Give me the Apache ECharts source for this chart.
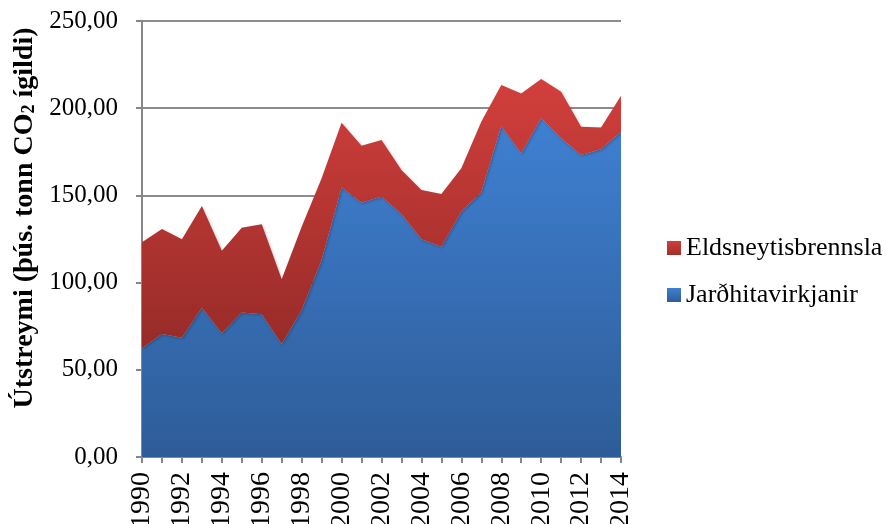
<!DOCTYPE html>
<html>
<head>
<meta charset="utf-8">
<script src="https://cdn.jsdelivr.net/npm/echarts@6/dist/echarts.min.js"></script>
<style>
html,body{margin:0;padding:0;background:#fff;}
#chart{width:886px;height:524px;}
</style>
</head>
<body>
<div id="chart"></div>
<script>
const years = ['1990','1991','1992','1993','1994','1995','1996','1997','1998','1999','2000','2001','2002','2003','2004','2005','2006','2007','2008','2009','2010','2011','2012','2013','2014'];
const jardhiti = [62.3,70.5,68.4,85.6,70.9,82.8,81.8,64.8,84.3,113.0,154.6,145.8,149.3,139.3,124.8,120.6,140.7,151.8,189.8,174.1,194.2,182.7,173.2,176.4,186.5];
const eldsneyti = [60.8,60.2,56.4,58.3,47.4,48.7,51.6,37.1,47.7,46.8,37.1,32.7,32.5,25.3,28.3,30.2,24.8,40.5,23.5,34.4,22.5,26.8,16.2,12.6,20.7];
const seriesNames = ['Eldsneytisbrennsla','Jarðhitavirkjanir'];

const font = '"Liberation Serif", "Times New Roman", serif';
const chart = echarts.init(document.getElementById('chart'));
function grad(top, bottom){
  return new echarts.graphic.LinearGradient(0,0,0,1,[{offset:0,color:top},{offset:1,color:bottom}]);
}
chart.setOption({
  animation:false,
  backgroundColor:'#fff',
  grid:{left:142,right:265,top:21,bottom:67,containLabel:false,outerBoundsMode:'none'},
  legend:{
    orient:'vertical',left:662,top:230,itemWidth:14,itemHeight:14,itemGap:21,
    icon:'rect',
    textStyle:{fontFamily:font,fontSize:26,color:'#000'},
    data:[
      {name:seriesNames[0],itemStyle:{color:grad('#d23f3c','#a02e2b')}},
      {name:seriesNames[1],itemStyle:{color:grad('#3f80d2','#2e5c98')}}
    ]
  },
  xAxis:{
    type:'category',data:years,boundaryGap:false,
    axisLine:{lineStyle:{color:'#868686',width:2}},
    axisTick:{show:true,interval:0,length:6,lineStyle:{color:'#868686',width:2}},
    axisLabel:{interval:1,rotate:90,margin:15,fontFamily:font,fontSize:28,color:'#000'},
    splitLine:{show:false}
  },
  yAxis:{
    type:'value',min:0,max:250,interval:50,
    name:'{a|Útstreymi (þús. tonn CO}{s|2}{a| ígildi)}',
    nameLocation:'middle',nameRotate:90,nameGap:102,
    nameTextStyle:{
      padding:[0,0,0,42],
      rich:{
        a:{fontFamily:font,fontSize:28,fontWeight:'bold',color:'#000'},
        s:{fontFamily:font,fontSize:18,fontWeight:'bold',color:'#000',verticalAlign:'bottom',padding:[10,0,0,0]}
      }
    },
    axisLine:{show:true,lineStyle:{color:'#868686',width:2}},
    axisTick:{show:true,length:6,lineStyle:{color:'#868686',width:2}},
    axisLabel:{margin:24,fontFamily:font,fontSize:25,color:'#000',formatter:v=>v.toFixed(2).replace('.',',')},
    splitLine:{lineStyle:{color:'#8c8c8c',width:2}}
  },
  series:[
    {
      name:seriesNames[1],type:'line',stack:'total',data:jardhiti,
      showSymbol:false,symbol:'none',
      lineStyle:{width:0},
      itemStyle:{color:'#3a74c0'},
      areaStyle:{opacity:1,color:grad('#3f80d2','#2e5c98'),shadowColor:'rgba(0,0,0,0.25)',shadowBlur:3,shadowOffsetX:1,shadowOffsetY:1}
    },
    {
      name:seriesNames[0],type:'line',stack:'total',data:eldsneyti,
      showSymbol:false,symbol:'none',
      lineStyle:{width:0},
      itemStyle:{color:'#c0393a'},
      areaStyle:{opacity:1,color:grad('#d23f3c','#962b28'),shadowColor:'rgba(0,0,0,0.25)',shadowBlur:3,shadowOffsetX:1,shadowOffsetY:1}
    }
  ]
});
</script>
</body>
</html>
